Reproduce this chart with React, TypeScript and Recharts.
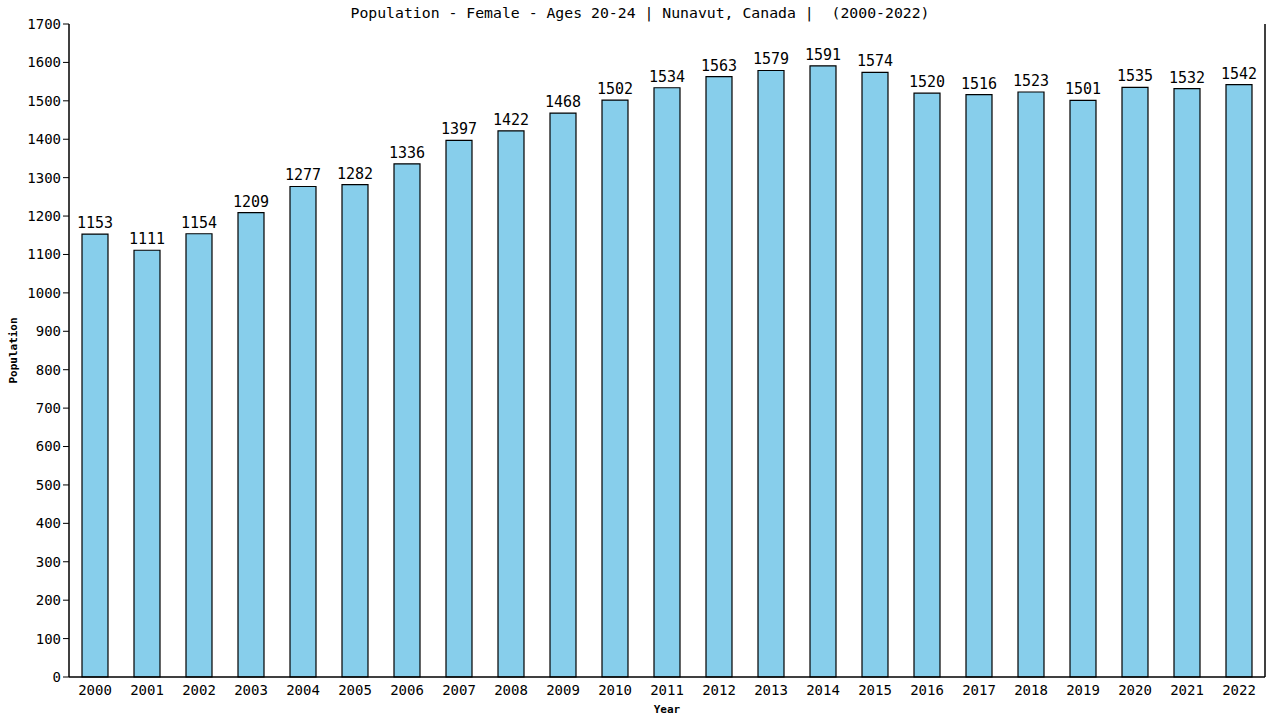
import { Bar, BarChart, LabelList, XAxis, YAxis, Label } from "recharts";

const years = [
  "2000", "2001", "2002", "2003", "2004", "2005", "2006", "2007", "2008",
  "2009", "2010", "2011", "2012", "2013", "2014", "2015", "2016", "2017",
  "2018", "2019", "2020", "2021", "2022",
];

const population = [
  1153, 1111, 1154, 1209, 1277, 1282, 1336, 1397, 1422, 1468, 1502, 1534,
  1563, 1579, 1591, 1574, 1520, 1516, 1523, 1501, 1535, 1532, 1542,
];

const yTicks = [
  0, 100, 200, 300, 400, 500, 600, 700, 800, 900, 1000, 1100, 1200, 1300,
  1400, 1500, 1600, 1700,
];

const TITLE = "Population - Female - Ages 20-24 | Nunavut, Canada |  (2000-2022)";
const FONT = "'DejaVu Sans Mono', monospace";
const BAR_COLOR = "#87ceeb";

const data = years.map((year, i) => ({ year, value: population[i] }));

export default function App() {
  return (
    <div style={{ position: "absolute", left: 0, top: 0, width: 1280, height: 720, background: "#fff" }}>
      <div
        style={{
          position: "absolute",
          top: 4,
          left: 0,
          width: 1280,
          textAlign: "center",
          fontFamily: FONT,
          fontSize: 14.8,
          color: "#000",
          whiteSpace: "pre",
        }}
      >
        {TITLE}
      </div>
      <BarChart
        width={1280}
        height={720}
        data={data}
        margin={{ top: 24, right: 0, bottom: 0, left: 0 }}
        barCategoryGap="25%"
      >
        <XAxis
          dataKey="year"
          height={43}
          tickLine={false}
          tickSize={6}
          axisLine={{ stroke: "#000", strokeWidth: 1.5 }}
          tick={{ fill: "#000", fontFamily: FONT, fontSize: 14 }}
          interval={0}
        >
          <Label
            value="Year"
            position="insideBottom"
            offset={7}
            style={{ fill: "#000", fontFamily: FONT, fontSize: 11, fontWeight: "bold" }}
          />
        </XAxis>
        <YAxis
          width={69}
          domain={[0, 1700]}
          ticks={yTicks}
          interval={0}
          tickSize={6}
          tickLine={{ stroke: "#000" }}
          axisLine={{ stroke: "#000", strokeWidth: 1.5 }}
          tick={{ fill: "#000", fontFamily: FONT, fontSize: 14 }}
        >
          <Label
            content={({ viewBox }: any) => {
              const cy = viewBox.y + viewBox.height / 2;
              return (
                <text
                  x={13}
                  y={cy}
                  transform={`rotate(-90, 13, ${cy})`}
                  textAnchor="middle"
                  dominantBaseline="central"
                  fill="#000"
                  fontFamily={FONT}
                  fontSize={11}
                  fontWeight="bold"
                >
                  Population
                </text>
              );
            }}
          />
        </YAxis>
        <YAxis
          yAxisId="right"
          orientation="right"
          width={15}
          tick={false}
          tickLine={false}
          axisLine={{ stroke: "#000", strokeWidth: 1.5 }}
        />
        <Bar
          dataKey="value"
          fill={BAR_COLOR}
          stroke="#000"
          strokeWidth={1.2}
          isAnimationActive={false}
        >
          <LabelList
            dataKey="value"
            position="top"
            offset={6}
            fill="#000"
            fontFamily={FONT}
            fontSize={15}
          />
        </Bar>
      </BarChart>
    </div>
  );
}
